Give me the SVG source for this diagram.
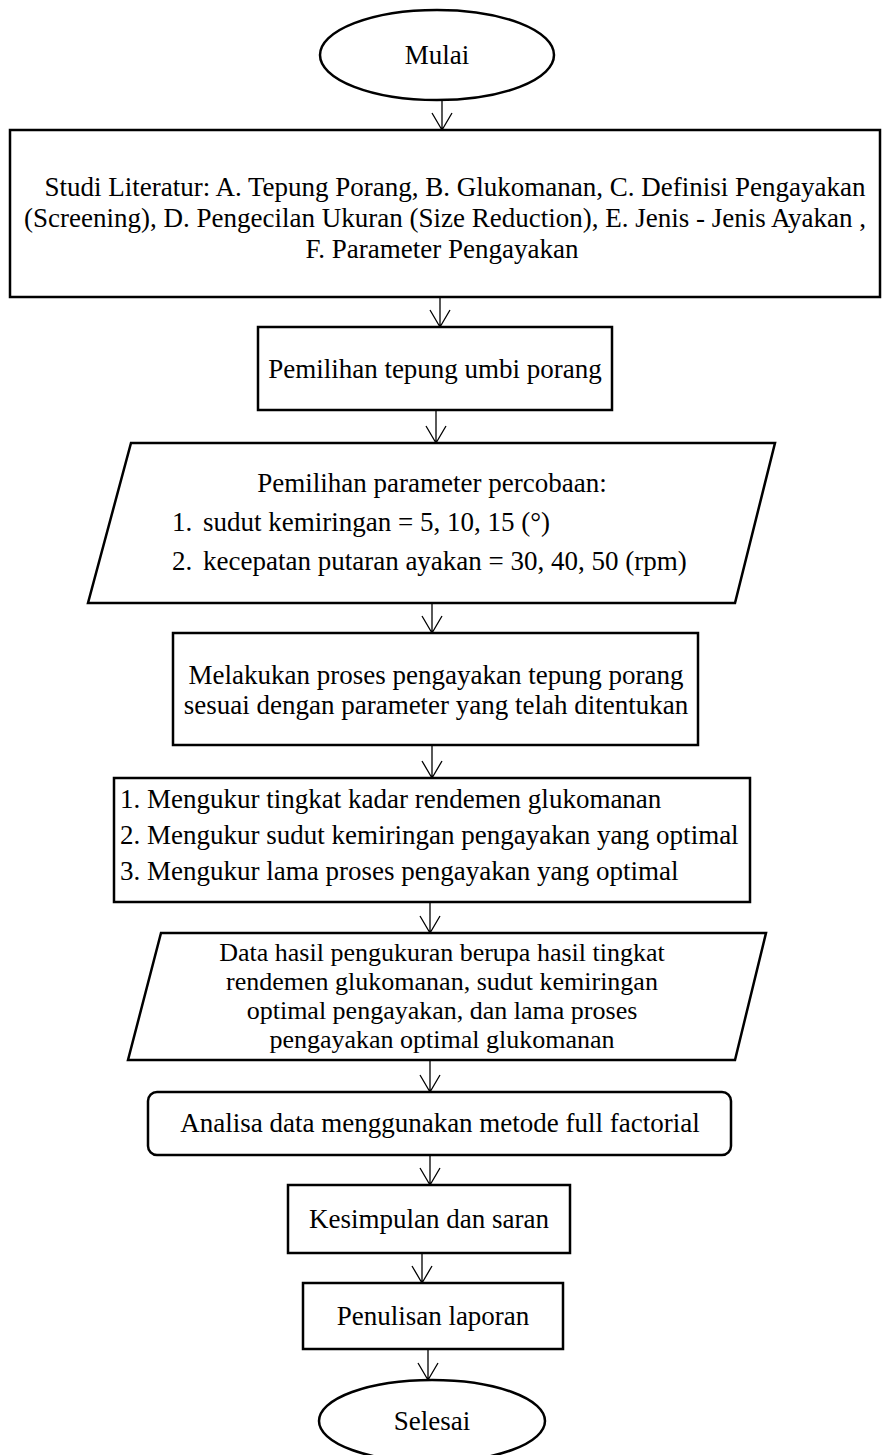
<svg xmlns="http://www.w3.org/2000/svg" width="882" height="1455" viewBox="0 0 882 1455">
<defs>
<style>
.n{fill:#fff;stroke:#000;stroke-width:2.5}
.t{font-family:"Liberation Serif","Times New Roman",serif;font-size:27px;fill:#000}
.s{font-size:26px}
.c{text-anchor:middle}
.e{stroke:#000;stroke-width:1.3;fill:none}
</style>
</defs>
<g id="connectors" class="e">
<path d="M442,100 V130 M432,113 L442,130 L452,113"/>
<path d="M440,297 V327 M430,310 L440,327 L450,310"/>
<path d="M436,410 V443 M426,426 L436,443 L446,426"/>
<path d="M432,603 V633 M422,616 L432,633 L442,616"/>
<path d="M432,745 V778 M422,761 L432,778 L442,761"/>
<path d="M430,902 V933 M420,916 L430,933 L440,916"/>
<path d="M430,1060 V1092 M420,1075 L430,1092 L440,1075"/>
<path d="M430,1155 V1185 M420,1168 L430,1185 L440,1168"/>
<path d="M422,1253 V1283 M412,1266 L422,1283 L432,1266"/>
<path d="M428,1349 V1380 M418,1363 L428,1380 L438,1363"/>
</g>
<g id="start"><ellipse class="n" cx="437" cy="55" rx="117" ry="45"/><text class="t c" x="437" y="64">Mulai</text></g>
<g id="studi"><rect class="n" x="10" y="130" width="870" height="167" stroke-width="3"/>
<text class="t c" x="455" y="196">Studi Literatur: A. Tepung Porang, B. Glukomanan, C. Definisi Pengayakan</text>
<text class="t c" x="445" y="227">(Screening), D. Pengecilan Ukuran (Size Reduction), E. Jenis - Jenis Ayakan ,</text>
<text class="t c" x="442" y="258">F. Parameter Pengayakan</text></g>
<g id="pemilihan"><rect class="n" x="258" y="327" width="354" height="83"/><text class="t c" x="435" y="378">Pemilihan tepung umbi porang</text></g>
<g id="parameter"><polygon class="n" points="131,443 775,443 735,603 88,603"/>
<text class="t c" x="432" y="492">Pemilihan parameter percobaan:</text>
<text class="t" x="172" y="531">1.</text><text class="t" x="203" y="531">sudut kemiringan = 5, 10, 15 (°)</text>
<text class="t" x="172" y="570">2.</text><text class="t" x="203" y="570">kecepatan putaran ayakan = 30, 40, 50 (rpm)</text></g>
<g id="proses"><rect class="n" x="173" y="633" width="525" height="112"/>
<text class="t c" x="436" y="684">Melakukan proses pengayakan tepung porang</text>
<text class="t c" x="436" y="714">sesuai dengan parameter yang telah ditentukan</text></g>
<g id="ukur"><rect class="n" x="114" y="778" width="636" height="124"/>
<text class="t" x="120" y="808">1. Mengukur tingkat kadar rendemen glukomanan</text>
<text class="t" x="120" y="844">2. Mengukur sudut kemiringan pengayakan yang optimal</text>
<text class="t" x="120" y="880">3. Mengukur lama proses pengayakan yang optimal</text></g>
<g id="data"><polygon class="n" points="161,933 766,933 735,1060 128,1060"/>
<text class="t s c" x="442" y="961">Data hasil pengukuran berupa hasil tingkat</text>
<text class="t s c" x="442" y="990">rendemen glukomanan, sudut kemiringan</text>
<text class="t s c" x="442" y="1019">optimal pengayakan, dan lama proses</text>
<text class="t s c" x="442" y="1048">pengayakan optimal glukomanan</text></g>
<g id="analisa"><rect class="n" x="148" y="1092" width="583" height="63" rx="9"/><text class="t c" x="440" y="1132">Analisa data menggunakan metode full factorial</text></g>
<g id="kesimpulan"><rect class="n" x="288" y="1185" width="282" height="68"/><text class="t c" x="429" y="1228">Kesimpulan dan saran</text></g>
<g id="laporan"><rect class="n" x="303" y="1283" width="260" height="66"/><text class="t c" x="433" y="1325">Penulisan laporan</text></g>
<g id="end"><ellipse class="n" cx="432" cy="1421" rx="113" ry="41"/><text class="t c" x="432" y="1430">Selesai</text></g>
</svg>
